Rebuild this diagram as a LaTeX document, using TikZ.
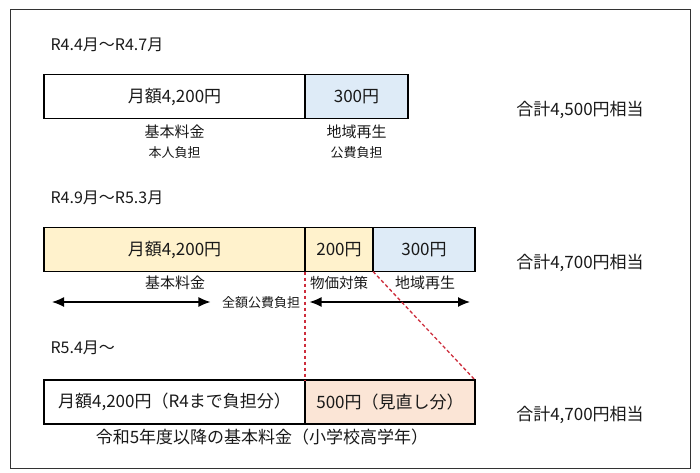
\documentclass[tikz,border=0pt]{standalone}
\usepackage{fontspec}
\setmainfont{Noto Sans CJK JP}
\usetikzlibrary{positioning,arrows.meta}
\definecolor{FeeYellow}{RGB}{255,242,204}
\definecolor{FeeBlue}{RGB}{222,235,247}
\definecolor{FeePeach}{RGB}{251,229,214}
\definecolor{TextGray}{RGB}{25,25,25}
\definecolor{GuideRed}{RGB}{205,45,60}

\begin{document}
\begin{tikzpicture}[
    x=1pt, y=1pt,
    font=\fontsize{17}{20}\selectfont,
    text=TextGray,
    bar/.style={
        draw,
        line width=1.3pt,
        inner sep=0pt,
        outer sep=0pt,
        minimum height=44pt,
        align=center
    },
    lbl/.style={
        font=\fontsize{15}{18}\selectfont
    },
    small/.style={
        font=\fontsize{13}{15}\selectfont
    },
    period/.style={
        anchor=west,
        font=\fontsize{16}{19}\selectfont
    },
    guide/.style={
        draw=GuideRed,
        dash pattern=on 3.5pt off 2.5pt,
        line width=1.3pt
    },
    span/.style={
        {Latex[length=12pt,width=10pt]}-{Latex[length=12pt,width=10pt]},
        line width=1.3pt
    }
]
\useasboundingbox (0,0) rectangle (700,472);
\draw[line width=1pt, black!80] (10,4) rectangle (690,462);

% R4.4 - R4.7
\node[period] (p1) at (47,427) {R4.4月～R4.7月};
\node[bar, minimum width=261pt] (base1) at (174.5,375.5) {月額4,200円};
\node[bar, minimum width=103pt, fill=FeeBlue, right=0pt of base1] (region1) {300円};
\node[lbl] (base1lbl) at (174.5,340) {基本料金};
\node[small] (base1pay) at (174.5,319) {本人負担};
\node[lbl] (region1lbl) at (356.5,340) {地域再生};
\node[small] (region1pay) at (356.5,319) {公費負担};
\node (total1) at (580,362) {合計4,500円相当};

% R4.9 - R5.3
\node[period] (p2) at (47,274) {R4.9月～R5.3月};
\node[bar, minimum width=261pt, fill=FeeYellow] (base2) at (174.5,222.5) {月額4,200円};
\node[bar, minimum width=68pt, fill=FeeYellow, right=0pt of base2] (price) {200円};
\node[bar, minimum width=102pt, fill=FeeBlue, right=0pt of price] (region2) {300円};
\node[lbl] (base2lbl) at (175,189) {基本料金};
\node[lbl, font=\fontsize{14.5}{17}\selectfont] (pricelbl) at (339,189) {物価対策};
\node[lbl] (region2lbl) at (425,189) {地域再生};
\node (total2) at (580,209) {合計4,700円相当};

\node[small] (full) at (261,169) {全額公費負担};
\coordinate (la) at (52,170);
\coordinate (rb) at (470,170);
\draw[span] (la) -- ([xshift=-8pt,yshift=1pt]full.west);
\draw[span] ([xshift=6pt,yshift=1pt]full.east) -- (rb);

% R5.4 -
\node[period] (p3) at (47,124) {R5.4月～};
\node[bar, minimum width=261pt] (base3) at (174.5,70) {月額4,200円（R4まで負担分）};
\node[bar, minimum width=170pt, fill=FeePeach, right=0pt of base3] (rev) {500円（見直し分）};
\node (base3lbl) at (262,35) {令和5年度以降の基本料金（小学校高学年）};
\node (total3) at (580,57) {合計4,700円相当};

\draw[guide] (price.south west) -- (rev.north west);
\draw[guide] (price.south east) -- (rev.north east);

\end{tikzpicture}
\end{document}
